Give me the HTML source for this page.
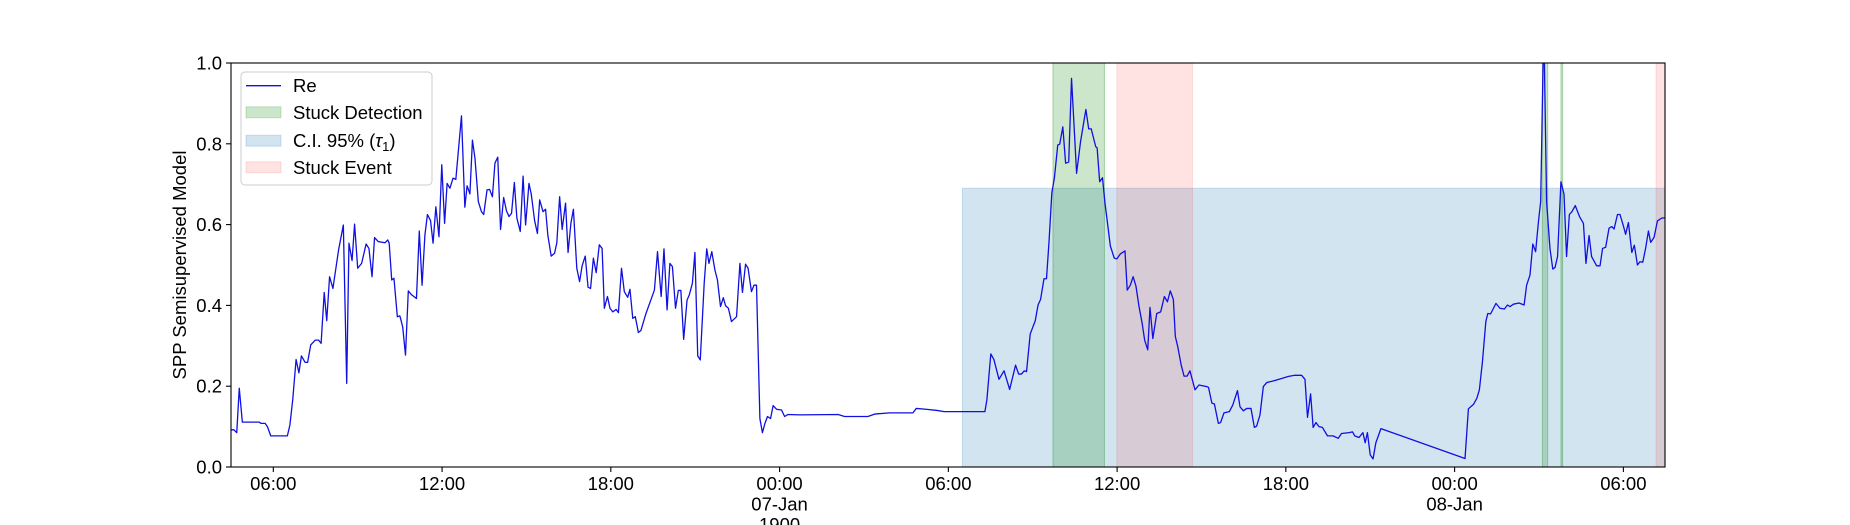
<!DOCTYPE html>
<html><head><meta charset="utf-8"><style>
html,body{margin:0;padding:0;background:#fff;}
svg{display:block;font-family:"Liberation Sans",sans-serif;}
</style></head><body>
<svg id="chart" width="1850" height="525" viewBox="0 0 1850 525" xmlns="http://www.w3.org/2000/svg">
<defs><clipPath id="plotclip"><rect x="231" y="63" width="1434" height="404"/></clipPath></defs>
<g id="bands" clip-path="url(#plotclip)"></g>
<g id="series" clip-path="url(#plotclip)"></g>
<g id="axes"></g>
<g id="legend"></g>
</svg>
<script>
// Hours since 00:00 on 06-Jan
const times = [4.50,4.60,4.70,4.79,4.90,5.50,5.56,5.71,5.79,5.91,6.50,6.59,6.69,
6.81,6.91,7.00,7.13,7.22,7.33,7.49,7.61,7.70,7.81,7.90,8.00,8.12,8.32,8.49,8.61,8.69,8.80,8.89,9.00,9.14,9.30,9.40,9.51,9.60,9.73,9.97,10.07,10.12,10.21,10.29,10.41,10.50,10.60,10.70,10.80,10.92,11.09,11.19,11.29,11.39,11.48,11.59,11.68,11.78,11.89,11.99,12.09,12.18,12.28,12.39,12.49,12.69,12.81,12.89,12.99,13.08,13.17,13.29,13.40,13.48,13.60,13.69,13.79,13.88,13.98,14.08,14.19,14.29,14.38,14.47,14.57,14.66,14.78,14.88,14.97,15.09,15.17,15.29,15.39,15.47,15.59,15.68,15.76,15.88,16.00,16.08,16.18,16.27,16.39,16.48,16.58,16.67,16.79,16.89,16.98,17.09,17.19,17.28,17.38,17.48,17.59,17.69,17.77,17.88,17.97,18.07,18.19,18.27,18.38,18.48,18.60,18.68,18.78,18.87,18.98,19.07,19.25,19.55,19.66,
19.79,19.89,20.00,20.10,20.19,20.30,20.40,20.49,20.59,20.71,20.79,20.90,20.99,21.09,21.18,21.32,21.41,21.49,21.59,21.70,21.79,21.90,22.00,22.08,22.18,22.29,22.47,22.59,22.68,22.79,22.88,23.00,23.09,23.18,23.30,23.39,23.48,23.57,23.68,23.77,23.89,24.07,24.18,24.30,24.72,26.08,26.31,27.14,27.38,27.91,28.74,28.86,
29.20,29.60,29.85,31.30,31.37,31.51,31.62,31.80,31.98,32.18,32.39,32.50,32.60,32.70,32.78,32.91,33.09,33.19,33.28,33.40,33.49,33.58,33.68,33.77,33.89,33.96,34.07,34.17,34.28,34.38,34.56,34.70,34.89,34.99,35.08,35.24,35.29,35.38,35.48,35.57,35.76,35.90,35.99,36.11,36.28,36.36,36.47,36.57,36.67,36.78,36.89,36.98,37.09,37.17,37.27,37.41,37.55,37.68,37.79,37.89,38.00,38.07,38.15,38.28,38.38,38.49,38.59,38.77,38.91,39.19,
39.25,39.37,39.46,39.60,39.68,39.80,39.99,40.11,40.28,40.37,40.49,40.61,40.76,40.88,40.96,41.08,41.20,41.32,41.61,41.85,42.08,42.32,42.56,42.68,42.77,42.88,42.97,43.07,43.18,43.30,43.48,43.68,43.86,43.98,44.25,44.37,44.45,44.60,44.74,44.82,44.90,45.00,45.10,45.20,45.38,
48.37,48.49,48.67,48.79,48.88,48.99,49.11,49.18,49.28,49.47,49.61,49.77,49.88,49.97,50.09,50.29,50.47,50.56,50.68,50.78,50.88,50.98,51.06,51.17,51.27,51.39,51.49,51.57,51.66,51.78,51.89,51.98,52.08,52.17,52.29,52.44,52.58,52.67,52.78,52.87,53.05,53.17,53.26,53.37,53.49,53.59,53.67,53.79,53.88,54.00,54.08,54.18,54.30,54.39,54.50,54.59,54.69,54.79,54.89,54.97,55.09,55.21,55.36,55.48];
const reValues = [.092,.092,.085,.195,.111,.111,.108,.108,.100,.077,.077,.104,.166,
.266,.233,.275,.259,.259,.302,.314,.314,.306,.432,.362,.471,.442,.537,.599,.207,.554,.511,.601,.492,.504,.552,.541,.471,.568,.558,.555,.562,.554,.463,.467,.372,.374,.347,.277,.436,.426,.417,.584,.450,.574,.625,.610,.554,.644,.570,.748,.603,.702,.690,.715,.712,.869,.643,.696,.676,.809,.764,.657,.632,.625,.686,.687,.669,.752,.767,.588,.667,.634,.620,.628,.704,.616,.583,.720,.599,.702,.676,.610,.578,.661,.632,.638,.574,.522,.529,.555,.669,.588,.653,.531,.603,.638,.492,.459,.498,.522,.445,.442,.517,.481,.550,.541,.393,.422,.393,.384,.390,.382,.492,.434,.420,.440,.368,.372,.333,.338,.380,.438,.533,
.422,.540,.389,.504,.496,.393,.437,.437,.316,.413,.426,.455,.531,.275,.265,.455,.540,.504,.533,.488,.463,.397,.419,.399,.393,.360,.372,.504,.432,.502,.492,.434,.450,.450,.120,.085,.108,.125,.120,.152,.143,.141,.125,.130,.129,.130,.125,.125,.131,.134,.134,.145,
.143,.140,.137,.137,.166,.280,.266,.217,.238,.192,.252,.230,.230,.238,.236,.329,.362,.401,.415,.466,.466,.558,.679,.715,.797,.799,.842,.752,.755,.962,.727,.805,.885,.837,.837,.793,.790,.706,.716,.653,.547,.517,.515,.527,.535,.438,.450,.471,.448,.397,.356,.314,.290,.395,.318,.380,.384,.422,.409,.436,.415,.323,.300,.252,.225,.225,.238,.191,.203,.199,
.197,.158,.156,.108,.110,.134,.137,.153,.189,.149,.139,.145,.145,.098,.101,.129,.199,.209,.214,.219,.224,.227,.227,.217,.123,.181,.098,.110,.100,.098,.077,.077,.071,.083,.085,.087,.077,.073,.085,.060,.085,.030,.020,.060,.095,
.021,.144,.155,.170,.191,.261,.360,.380,.379,.405,.393,.391,.401,.397,.403,.406,.401,.450,.475,.552,.533,.607,.657,1.10,.657,.541,.490,.494,.521,.706,.675,.521,.625,.632,.647,.620,.603,.504,.573,.521,.498,.498,.541,.544,.591,.595,.589,.625,.625,.597,.576,.605,.531,.549,.500,.508,.507,.541,.584,.556,.568,.609,.616,.617];
// Shaded intervals [start, end] in hours
const ciStart = [30.50]; const ciEnd = [55.48]; const ciUpper = [0.69];
const detectStart = [33.72, 51.12, 51.78]; const detectEnd = [35.55, 51.31, 51.84];
const eventStart = [35.99, 55.16]; const eventEnd = [38.68, 55.48];
const xTickHours = [6,12,18,24,30,36,42,48,54];
const xTickLabels = [["06:00"],["12:00"],["18:00"],["00:00","07-Jan","1900"],["06:00"],["12:00"],["18:00"],["00:00","08-Jan"],["06:00"]];
const yTicks = [0,0.2,0.4,0.6,0.8,1.0];
const yTickLabels = ["0.0","0.2","0.4","0.6","0.8","1.0"];

const L=231,R=1665,T=63,B=467, X0=4.496, X1=55.48;
const xs = h => L + (h - X0) / (X1 - X0) * (R - L);
const ys = v => B - v * (B - T);
const NS="http://www.w3.org/2000/svg";
function mk(tag, attrs, parent){const e=document.createElementNS(NS,tag);for(const k in attrs)e.setAttribute(k,attrs[k]);parent.appendChild(e);return e;}
const bands=document.getElementById('bands'), series=document.getElementById('series'), axes=document.getElementById('axes'), legend=document.getElementById('legend');

for(let i=0;i<ciStart.length;i++){
  const r=mk('rect',{x:xs(ciStart[i]),y:ys(ciUpper[i]),width:xs(ciEnd[i])-xs(ciStart[i]),height:ys(0)-ys(ciUpper[i]),fill:'#1f77b4','fill-opacity':0.2,stroke:'#1f77b4','stroke-opacity':0.2},bands);
  
  
}
for(let i=0;i<detectStart.length;i++){
  const r=mk('rect',{x:xs(detectStart[i]),y:T,width:xs(detectEnd[i])-xs(detectStart[i]),height:B-T,fill:'#008000','fill-opacity':0.2,stroke:'#008000','stroke-opacity':0.3},bands);
  
  
}
for(let i=0;i<eventStart.length;i++){
  const r=mk('rect',{x:xs(eventStart[i]),y:T,width:xs(eventEnd[i])-xs(eventStart[i]),height:B-T,fill:'#ff0000','fill-opacity':0.11,stroke:'#ff0000','stroke-opacity':0.11},bands);
  
  
}
let d='';
for(let i=0;i<times.length;i++){d+=(i?'L':'M')+xs(times[i]).toFixed(2)+','+ys(reValues[i]).toFixed(2);}
const line=mk('path',{d:d,fill:'none',stroke:'#1010e0','stroke-width':1.3,'stroke-linejoin':'round'},series);



const frame=mk('rect',{x:L,y:T,width:R-L,height:B-T,fill:'none',stroke:'#000','stroke-width':1.1},axes);


for(let i=0;i<yTicks.length;i++){
  const y=ys(yTicks[i]);
  mk('line',{x1:L-5,x2:L,y1:y,y2:y,stroke:'#000','stroke-width':1.1},axes);
  const t=mk('text',{x:L-9,y:y+6.5,'text-anchor':'end','font-size':18.5,fill:'#000'},axes);
  t.textContent=yTickLabels[i];
  
  
}
for(let i=0;i<xTickHours.length;i++){
  const x=xs(xTickHours[i]);
  mk('line',{x1:x,x2:x,y1:B,y2:B+5,stroke:'#000','stroke-width':1.1},axes);
  xTickLabels[i].forEach((s,j)=>{
    const t=mk('text',{x:x,y:490+j*20.5,'text-anchor':'middle','font-size':18.5,fill:'#000'},axes);
    t.textContent=s;
    
    
  });
}
const yl=mk('text',{x:0,y:0,'text-anchor':'middle','font-size':18.5,fill:'#000',transform:'translate(186,265) rotate(-90)'},axes);
yl.textContent='SPP Semisupervised Model';



const lb=mk('rect',{x:241,y:72,width:191,height:113,rx:4,fill:'#fff','fill-opacity':0.8,stroke:'#cccccc','stroke-width':1},legend);


const entries=[['line','#1010e0',1,'Re'],['patch','#008000',0.2,'Stuck Detection'],['patch','#1f77b4',0.2,'C.I. 95% (τ1)'],['patch','#ff0000',0.11,'Stuck Event']];
const rowY=[85.7,112.3,140.7,167.3];
entries.forEach((e,i)=>{
  const g=mk('g',{},legend);
  
  
  if(e[0]==='line') mk('line',{x1:246,x2:281,y1:rowY[i],y2:rowY[i],stroke:e[1],'stroke-width':1.3},g);
  else mk('rect',{x:246,y:rowY[i]-5.5,width:35,height:11,fill:e[1],'fill-opacity':e[2],stroke:e[1],'stroke-opacity':e[2]},g);
  const t=mk('text',{x:293,y:rowY[i]+6.5,'font-size':18.5,fill:'#000'},g);
  if(i===2){t.textContent='C.I. 95% (';const ts=mk('tspan',{'font-style':'italic'},t);ts.textContent='τ';const sub=mk('tspan',{'font-size':13,dy:4},t);sub.textContent='1';const cl=mk('tspan',{dy:-4},t);cl.textContent=')';}
  else t.textContent=e[3];
});
</script>
</body></html>
